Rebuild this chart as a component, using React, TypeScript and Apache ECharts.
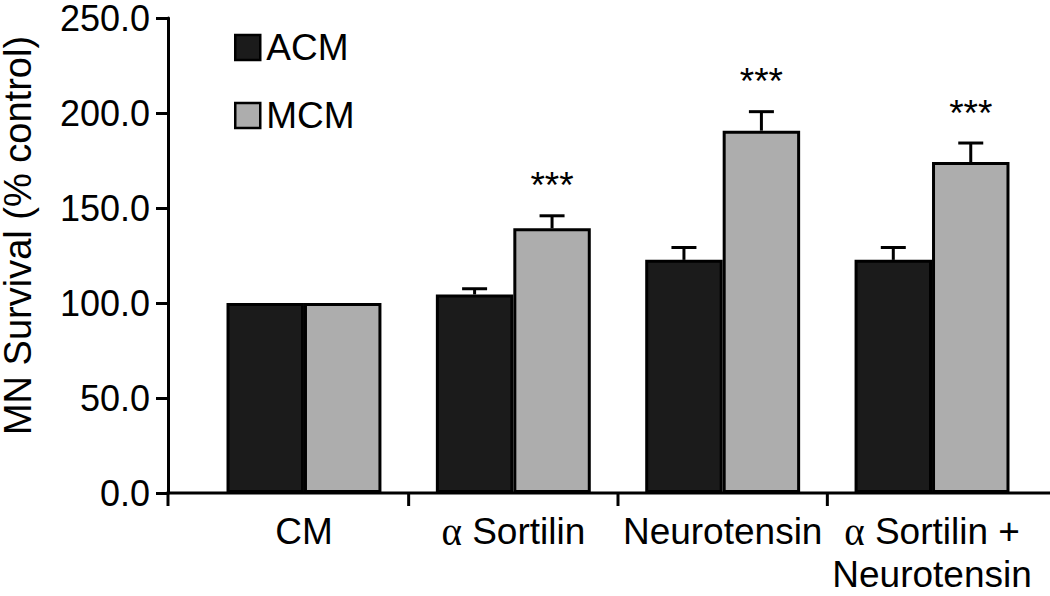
import React, { useEffect, useRef } from "react";
import * as echarts from "echarts";

const categories = ["CM", "α Sortilin", "Neurotensin", "α Sortilin +\nNeurotensin"];
const acmValues = [100, 104.5, 122.7, 122.7];
const acmErrors = [0, 3, 6.5, 6.5];
const mcmValues = [100, 139.3, 190.7, 174.2];
const mcmErrors = [0, 6.6, 10, 10];
const significance = ["", "***", "***", "***"];
const yTicks = { min: 0, max: 250, interval: 50 };

const FONT = "'Liberation Sans', Arial, Helvetica, sans-serif";
const GRID_LEFT = 199.3;
const Y_OFFSET = 31.3;
const BAR_FRAC = 0.37;

export default function App() {
  const ref = useRef<HTMLDivElement>(null);

  useEffect(() => {
    if (!ref.current) return;
    const chart = echarts.init(ref.current, null, { renderer: "svg" });

    const makeErr = (side: number) => (params: any, api: any) => {
      const i = api.value(0);
      const v = api.value(1);
      const e = api.value(2);
      const sig = significance[i] && side > 0 ? significance[i] : "";
      const band = api.size([1, 0])[0];
      const off = (side * band * BAR_FRAC) / 2;
      const top = api.coord([i, v]);
      const et = api.coord([i, v + e]);
      const x = top[0] + off;
      const children: any[] = [];
      if (e > 0) {
        children.push({
          type: "line",
          shape: { x1: x, y1: top[1], x2: x, y2: et[1] },
          style: { stroke: "#000", lineWidth: 3 },
        });
        children.push({
          type: "line",
          shape: { x1: x - 12.5, y1: et[1], x2: x + 12.5, y2: et[1] },
          style: { stroke: "#000", lineWidth: 3 },
        });
      }
      if (sig) {
        children.push({
          type: "text",
          x: x,
          y: et[1] - 30,
          style: {
            text: sig,
            fontSize: 37,
            fontFamily: FONT,
            fill: "#000",
            textAlign: "center",
            textVerticalAlign: "middle",
          },
        });
      }
      return { type: "group", children };
    };

    const option: any = {
      animation: false,
      grid: { left: GRID_LEFT, right: 13.3, top: 15, bottom: 103, containLabel: false },
      legend: {
        data: ["ACM", "MCM"],
        orient: "vertical",
        left: 229,
        top: 24,
        icon: "rect",
        itemWidth: 25,
        itemHeight: 25,
        itemGap: 31,
        itemStyle: { borderColor: "#000", borderWidth: 2.5 },
        textStyle: {
          fontSize: 37,
          lineHeight: 37,
          color: "#000",
          fontFamily: FONT,
          padding: [0, 0, 0, 1],
        },
      },
      xAxis: {
        type: "category",
        data: categories,
        axisLine: { show: false },
        axisTick: { show: false },
        axisLabel: {
          interval: 0,
          fontSize: 37,
          lineHeight: 43,
          color: "#000",
          fontFamily: FONT,
          margin: 17,
          formatter: (v: string) => v.replace(/α/g, "{a|α}"),
          rich: {
            a: { fontFamily: "'Liberation Serif', 'DejaVu Serif', serif", fontSize: 39, lineHeight: 43, color: "#000" },
          },
        },
      },
      yAxis: {
        type: "value",
        min: yTicks.min,
        max: yTicks.max,
        interval: yTicks.interval,
        offset: Y_OFFSET,
        axisLine: { show: true, lineStyle: { color: "#000", width: 3 } },
        axisTick: { show: true, length: 12, lineStyle: { color: "#000", width: 3 } },
        axisLabel: {
          formatter: (v: number) => v.toFixed(1),
          fontSize: 36,
          lineHeight: 30,
          color: "#000",
          fontFamily: FONT,
          margin: 18,
        },
        splitLine: { show: false },
      },
      series: [
        {
          name: "ACM",
          type: "bar",
          data: acmValues,
          barWidth: BAR_FRAC * 100 + "%",
          barGap: "0%",
          itemStyle: { color: "#1b1b1b", borderColor: "#000", borderWidth: 3 },
        },
        {
          name: "MCM",
          type: "bar",
          data: mcmValues,
          barWidth: BAR_FRAC * 100 + "%",
          barGap: "0%",
          itemStyle: { color: "#adadad", borderColor: "#000", borderWidth: 3 },
        },
        {
          name: "errA",
          type: "custom",
          renderItem: makeErr(-1),
          data: acmValues.map((v, i) => [i, v, acmErrors[i]]),
          encode: { x: 0, y: 1 },
          z: 5,
        },
        {
          name: "errM",
          type: "custom",
          renderItem: makeErr(1),
          data: mcmValues.map((v, i) => [i, v, mcmErrors[i]]),
          encode: { x: 0, y: 1 },
          z: 5,
        },
      ],
    };
    chart.setOption(option);

    const c0 = chart.convertToPixel({ xAxisIndex: 0 }, 0) as number;
    const c1 = chart.convertToPixel({ xAxisIndex: 0 }, 1) as number;
    const band = c1 - c0;
    const y0 = chart.convertToPixel({ yAxisIndex: 0 }, 0) as number;
    const yTop = chart.convertToPixel({ yAxisIndex: 0 }, yTicks.max) as number;
    const axisX = GRID_LEFT - Y_OFFSET;
    const graphics: any[] = [
      {
        type: "line",
        shape: { x1: axisX - 1.5, y1: y0, x2: 1050, y2: y0 },
        style: { stroke: "#000", lineWidth: 3 },
        z: 10,
      },
      {
        type: "line",
        shape: { x1: axisX, y1: y0, x2: axisX, y2: y0 + 13 },
        style: { stroke: "#000", lineWidth: 3 },
        z: 10,
      },
    ];
    for (let i = 1; i < categories.length; i++) {
      const cx = (chart.convertToPixel({ xAxisIndex: 0 }, i) as number) - band / 2;
      graphics.push({
        type: "line",
        shape: { x1: cx, y1: y0, x2: cx, y2: y0 + 13 },
        style: { stroke: "#000", lineWidth: 3 },
        z: 10,
      });
    }
    graphics.push({
      type: "text",
      x: 18,
      y: (y0 + yTop) / 2 - 20,
      rotation: Math.PI / 2,
      style: {
        text: "MN Survival (% control)",
        fontSize: 38,
        fontFamily: FONT,
        fill: "#000",
        textAlign: "center",
        textVerticalAlign: "middle",
      },
    });
    chart.setOption({ graphic: graphics });

    return () => chart.dispose();
  }, []);

  return (
    <div
      ref={ref}
      style={{ position: "fixed", left: 0, top: 0, width: 1050, height: 596, background: "#fff" }}
    />
  );
}
